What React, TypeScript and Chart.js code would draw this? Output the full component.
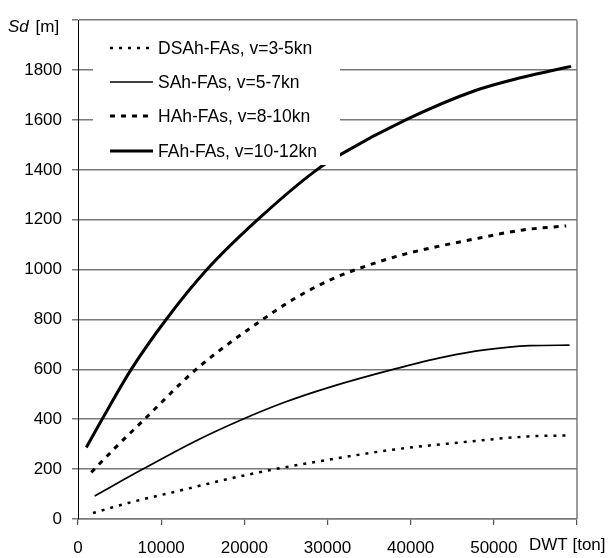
import React, { useEffect, useRef } from "react";
import { Chart, registerables } from "chart.js";

Chart.register(...registerables);

// DSAh-FAs, v=3-5kn
const dsahDwt = [1800, 6000, 12000, 18000, 23700, 30000, 38100, 46000, 54100, 58900];
const dsahSd = [24, 64, 112, 160, 200, 237, 279, 307, 331, 335];
// SAh-FAs, v=5-7kn
const sahDwt = [2000, 7800, 14100, 19800, 25000, 30000, 37900, 44100, 48900, 54300, 59100];
const sahSd = [92, 200, 312, 400, 470, 526, 600, 650, 678, 695, 697];
// HAh-FAs, v=8-10kn
const hahDwt = [1600, 4400, 8000, 14200, 22200, 26100, 30400, 35500, 39300, 48300, 53500, 58700];
const hahSd = [187, 283, 400, 600, 800, 885, 960, 1024, 1062, 1127, 1159, 1175];
// FAh-FAs, v=10-12kn
const fahDwt = [1000, 2900, 6400, 10600, 15500, 21600, 28700, 31600, 39400, 47700, 53200, 57300, 59300];
const fahSd = [287, 400, 600, 800, 1000, 1200, 1400, 1462, 1600, 1717, 1769, 1800, 1815];

const seriesLabels = [
  "DSAh-FAs, v=3-5kn",
  "SAh-FAs, v=5-7kn",
  "HAh-FAs, v=8-10kn",
  "FAh-FAs, v=10-12kn",
];

const xTicks = [0, 10000, 20000, 30000, 40000, 50000, 60000];
const yTicks = [0, 200, 400, 600, 800, 1000, 1200, 1400, 1600, 1800, 2000];

const FONT = "'Liberation Sans', Arial, sans-serif";

const toPoints = (xs: number[], ys: number[]) => xs.map((x, i) => ({ x, y: ys[i] }));

const overlayPlugin = {
  id: "overlay",
  afterDatasetsDraw(chart: any) {
    const ctx = chart.ctx as CanvasRenderingContext2D;
    ctx.save();
    // legend box (white, covers grid and lines)
    ctx.fillStyle = "#fff";
    ctx.fillRect(93, 28, 247, 137);
    const rows = [48, 82, 116, 151];
    chart.data.datasets.forEach((ds: any, i: number) => {
      const y = rows[i];
      ctx.beginPath();
      ctx.strokeStyle = "#000";
      ctx.lineWidth = ds.borderWidth;
      ctx.setLineDash(ds.borderDash || []);
      ctx.moveTo(110, y);
      ctx.lineTo(153, y);
      ctx.stroke();
      ctx.setLineDash([]);
      ctx.fillStyle = "#000";
      ctx.font = `17.5px ${FONT}`;
      ctx.textBaseline = "middle";
      ctx.textAlign = "left";
      ctx.fillText(ds.label, 158, y + 1);
    });
    ctx.restore();
  },
  afterDraw(chart: any) {
    const ctx = chart.ctx as CanvasRenderingContext2D;
    const a = chart.chartArea;
    ctx.save();
    // right border
    ctx.beginPath();
    ctx.strokeStyle = "#7a7a7a";
    ctx.lineWidth = 1.5;
    ctx.moveTo(a.right, a.top);
    ctx.lineTo(a.right, a.bottom);
    ctx.stroke();
    // axis titles
    ctx.fillStyle = "#000";
    ctx.textBaseline = "middle";
    ctx.textAlign = "left";
    ctx.font = `italic 17px ${FONT}`;
    ctx.fillText("Sd", 8, 27);
    const w = ctx.measureText("Sd ").width;
    ctx.font = `17px ${FONT}`;
    ctx.fillText("[m]", 8 + w + 2, 27);
    ctx.fillText("DWT [ton]", 529, 545);
    ctx.restore();
  },
};

export default function App() {
  const ref = useRef<HTMLCanvasElement | null>(null);
  useEffect(() => {
    if (!ref.current) return;
    const chart = new Chart(ref.current, {
      type: "line",
      data: {
        datasets: [
          {
            label: seriesLabels[0],
            data: toPoints(dsahDwt, dsahSd),
            borderColor: "#000",
            borderWidth: 2.5,
            borderDash: [3, 6],
          },
          {
            label: seriesLabels[1],
            data: toPoints(sahDwt, sahSd),
            borderColor: "#000",
            borderWidth: 1.7,
            borderDash: [],
          },
          {
            label: seriesLabels[2],
            data: toPoints(hahDwt, hahSd),
            borderColor: "#000",
            borderWidth: 3,
            borderDash: [5, 6],
          },
          {
            label: seriesLabels[3],
            data: toPoints(fahDwt, fahSd),
            borderColor: "#000",
            borderWidth: 3,
            borderDash: [],
          },
        ] as any,
      },
      options: {
        responsive: false,
        animation: false,
        devicePixelRatio: 1,
        layout: { padding: { top: 15, right: 33, left: 0, bottom: 0 } },
        elements: {
          point: { radius: 0 },
          line: { cubicInterpolationMode: "monotone", fill: false },
        },
        plugins: {
          legend: { display: false },
          tooltip: { enabled: false },
        },
        scales: {
          x: {
            type: "linear",
            min: 0,
            max: 60000,
            afterBuildTicks: (s: any) => {
              s.ticks = xTicks.map((v) => ({ value: v }));
            },
            afterFit: (s: any) => {
              s.height = 39;
            },
            ticks: {
              callback: (v: any) => (v === 60000 ? "" : String(v)),
              color: "#000",
              font: { family: FONT, size: 17 },
              padding: 13,
              maxRotation: 0,
              autoSkip: false,
            },
            grid: {
              drawOnChartArea: false,
              drawTicks: true,
              tickLength: 6,
              color: "#555",
              lineWidth: 1.2,
            },
            border: { color: "#7a7a7a", width: 1.5 },
          },
          y: {
            type: "linear",
            min: 0,
            max: 2000,
            afterBuildTicks: (s: any) => {
              s.ticks = yTicks.map((v) => ({ value: v }));
            },
            afterFit: (s: any) => {
              s.width = 78;
            },
            ticks: {
              callback: (v: any) => (v === 2000 ? "" : String(v)),
              color: "#000",
              font: { family: FONT, size: 17 },
              padding: 10,
              autoSkip: false,
            },
            grid: {
              color: "#7a7a7a",
              lineWidth: 1.5,
              drawTicks: true,
              tickLength: 6,
            },
            border: { color: "#000", width: 1 },
          },
        },
      } as any,
      plugins: [overlayPlugin],
    });
    return () => chart.destroy();
  }, []);
  return (
    <div style={{ position: "fixed", left: 0, top: 0, width: 610, height: 558, background: "#fff" }}>
      <canvas ref={ref} width={610} height={558} style={{ display: "block" }} />
    </div>
  );
}
